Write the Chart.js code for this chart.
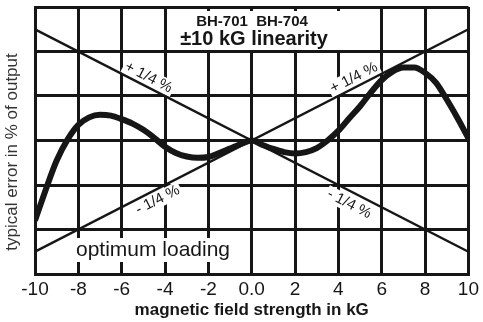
<!DOCTYPE html>
<html lang="en">
<head>
<meta charset="UTF-8" />
<title>BH-701 BH-704 linearity</title>
<script src="https://cdn.jsdelivr.net/npm/chart.js@4"></script>
<style>
  html, body { margin: 0; padding: 0; background: #fff; }
  #wrap { width: 483px; height: 322px; }
</style>
</head>
<body>
<div id="wrap"><canvas id="myChart" width="483" height="322"></canvas></div>
<script>
// field strength in kG (x) and typical error in % of output (y)
const fieldKG = [-10, -9.5, -9, -8.5, -8, -7.5, -7, -6.5, -6, -5.5, -5, -4.5, -4, -3.5, -3, -2.5, -2, -1.5, -1, -0.5,
                 0, 0.5, 1, 1.5, 2, 2.5, 3, 3.5, 4, 4.5, 5, 5.5, 6, 6.5, 7, 7.5, 8, 8.5, 9, 9.5, 10];
const errorPct = [-0.18, -0.11, -0.045, 0.002, 0.035, 0.052, 0.058, 0.056, 0.048, 0.038, 0.024, 0.006, -0.014, -0.028, -0.036, -0.039, -0.037, -0.028, -0.018, -0.008,
                  0, -0.01, -0.019, -0.026, -0.029, -0.026, -0.017, 0.0, 0.022, 0.05, 0.077, 0.108, 0.136, 0.155, 0.164, 0.164, 0.152, 0.13, 0.092, 0.05, 0.005];

// the +/- 1/4 % reference lines
const limitX = [-10, 10];
const limitDown = [0.25, -0.25];
const limitUp = [-0.25, 0.25];

const xTicks = [-10, -8, -6, -4, -2, 0, 2, 4, 6, 8, 10];
const yGrid = [-0.3, -0.2, -0.1, 0, 0.1, 0.2, 0.3];

// labels along the reference lines: x value, which line, offset from the line
const lineNotes = [
    { text: "+ 1/4 %", at: -4.95, line: limitDown, off: -9 },
    { text: "+ 1/4 %", at: 4.9, line: limitUp, off: -9 },
    { text: "- 1/4 %", at: -4.55, line: limitUp, off: 10 },
    { text: "- 1/4 %", at: 4.75, line: limitDown, off: 12 },
];

function toPoints(xs, ys) {
    return xs.map((v, i) => ({ x: v, y: ys[i] }));
}

const ink = "#161616";
const FONT = "'Liberation Sans', Arial, sans-serif";

const notesPlugin = {
    id: "notes",
    beforeDatasetsDraw(chart) {
        const { ctx, scales } = chart;
        const x = scales.x, y = scales.y;
        ctx.save();

        // title box
        ctx.fillStyle = "#fff";
        ctx.fillRect(168, 11, 175, 39);
        ctx.fillStyle = ink;
        ctx.textAlign = "center";
        ctx.textBaseline = "middle";
        ctx.font = "bold 15px " + FONT;
        ctx.fillText("BH-701  BH-704", 252, 22);
        ctx.font = "bold 20px " + FONT;
        ctx.fillText("\u00b110 kG linearity", 254, 39);

        // optimum loading
        ctx.font = "21px " + FONT;
        const ol = "optimum loading";
        const w = ctx.measureText(ol).width;
        ctx.fillStyle = "#fff";
        ctx.fillRect(153 - w / 2 - 2, 238, w + 4, 24);
        ctx.fillStyle = ink;
        ctx.fillText(ol, 153, 250);

        // y axis title
        ctx.save();
        ctx.translate(12, 152);
        ctx.rotate(-Math.PI / 2);
        ctx.fillStyle = "#333";
        ctx.font = "17px " + FONT;
        ctx.fillText("typical error in % of output", 0, 0);
        ctx.restore();

        // labels along the lines
        ctx.font = "15px " + FONT;
        lineNotes.forEach(n => {
            const slope = (n.line[1] - n.line[0]) / (limitX[1] - limitX[0]);
            const y0 = n.line[0] + slope * (n.at - limitX[0]);
            const px = x.getPixelForValue(n.at);
            const py = y.getPixelForValue(y0);
            const dx = x.getPixelForValue(n.at + 1) - px;
            const dy = y.getPixelForValue(y0 + slope) - py;
            const a = Math.atan2(dy, dx);
            const cx = px - Math.sin(a) * n.off;
            const cy = py + Math.cos(a) * n.off;
            ctx.save();
            ctx.translate(cx, cy);
            ctx.rotate(a);
            const tw = ctx.measureText(n.text).width;
            ctx.fillStyle = "#fff";
            ctx.fillRect(-tw / 2 - 2, -8, tw + 4, 16);
            ctx.fillStyle = ink;
            ctx.fillText(n.text, 0, 0);
            ctx.restore();
        });
        ctx.restore();
    },
};

const config = {
    type: "scatter",
    data: {
        datasets: [
            {
                label: "+ 1/4 %",
                data: toPoints(limitX, limitDown),
                showLine: true,
                borderColor: ink,
                borderWidth: 2.5,
                pointRadius: 0,
            },
            {
                label: "- 1/4 %",
                data: toPoints(limitX, limitUp),
                showLine: true,
                borderColor: ink,
                borderWidth: 2.5,
                pointRadius: 0,
            },
            {
                label: "typical error",
                data: toPoints(fieldKG, errorPct),
                showLine: true,
                borderColor: ink,
                borderWidth: 6,
                pointRadius: 0,
                cubicInterpolationMode: "monotone",
            },
        ],
    },
    options: {
        responsive: false,
        animation: false,
        layout: { padding: { top: 7, right: 12, left: 0, bottom: 0 } },
        plugins: {
            legend: { display: false },
            tooltip: { enabled: false },
        },
        scales: {
            x: {
                type: "linear",
                min: -10,
                max: 10,
                afterBuildTicks(scale) {
                    scale.ticks = xTicks.map(v => ({ value: v }));
                },
                afterFit(scale) { scale.height = 48; },
                ticks: {
                    color: ink,
                    padding: 4,
                    maxRotation: 0,
                    font: { family: FONT, size: 19 },
                    callback: v => (v === 0 ? "0.0" : String(v)),
                },
                grid: { color: ink, lineWidth: 3, drawTicks: false },
                border: { color: ink, width: 3 },
                title: {
                    display: true,
                    text: "magnetic field strength in kG",
                    color: ink,
                    font: { family: FONT, size: 17, weight: "bold" },
                    padding: { top: 0, bottom: 1 },
                },
            },
            y: {
                type: "linear",
                min: -0.3,
                max: 0.3,
                afterBuildTicks(scale) {
                    scale.ticks = yGrid.map(v => ({ value: v }));
                },
                afterFit(scale) { scale.width = 35; },
                ticks: { display: false },
                grid: { color: ink, lineWidth: 3, drawTicks: false },
                border: { color: ink, width: 3 },
                title: { display: false },
            },
        },
    },
    plugins: [notesPlugin],
};

const myChart = new Chart(document.getElementById("myChart"), config);
</script>
</body>
</html>
